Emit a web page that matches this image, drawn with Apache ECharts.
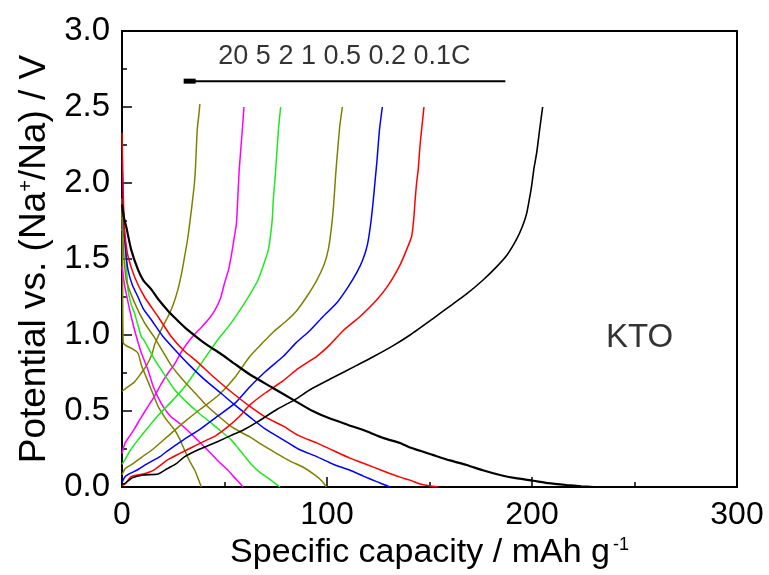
<!DOCTYPE html>
<html>
<head>
<meta charset="utf-8">
<title>KTO rate capability</title>
<script src="https://cdn.jsdelivr.net/npm/echarts@6/dist/echarts.min.js"></script>
<style>
  html, body { margin: 0; padding: 0; background: #fff; }
  #chart { width: 769px; height: 575px; }
</style>
</head>
<body>
<div id="chart"></div>
<script>
// Galvanostatic charge/discharge profiles of KTO at several C-rates.
// Each profile is a list of [specific capacity (mAh/g), potential (V)].

const rates = ['20C', '5C', '2C', '1C', '0.5C', '0.2C', '0.1C'];
const rateColors = ['#808000', '#ff00ff', '#1fe81f', '#808000', '#0000ff', '#ff0000', '#000000'];

const discharge20C = [[0,1.9],[0.3,1.4],[0.6,0.95],[2,0.93],[5,0.91],[7.8,0.88],[9.5,0.8],[11,0.75],[14.3,0.64],[17.6,0.53],[20.8,0.46],[23,0.42],[25.7,0.375],[28,0.32],[30.6,0.24],[33,0.17],[35.5,0.11],[37,0.06],[38.7,0]];
const charge20C = [[0,0.63],[3,0.66],[6,0.69],[9.4,0.75],[12,0.8],[14.5,0.87],[16,0.94],[17.6,0.99],[20,1.06],[22.4,1.12],[25,1.2],[27.3,1.3],[29,1.4],[30.6,1.52],[32,1.63],[33,1.73],[34,1.84],[35.2,1.98],[35.8,2.09],[36.7,2.35],[37.5,2.45],[38,2.52]];

const discharge5C = [[0,1.45],[1,1.35],[2.1,1.27],[4.5,1.12],[7,0.99],[9.5,0.88],[12.7,0.77],[15,0.67],[17.6,0.59],[20.5,0.52],[24,0.46],[27,0.43],[30.6,0.39],[36,0.32],[42,0.24],[47,0.17],[51.7,0.11],[55,0.06],[57.5,0.025],[59,0]];
const charge5C = [[0,0.22],[1.5,0.29],[3.5,0.33],[6.2,0.386],[9,0.45],[12.7,0.53],[16,0.6],[19.2,0.68],[22.5,0.75],[25.7,0.81],[29,0.89],[33.8,0.98],[38.7,1.05],[42,1.1],[45.2,1.16],[48,1.24],[50,1.34],[52,1.43],[53.3,1.52],[54.5,1.62],[55.8,1.73],[56.3,1.85],[57.2,2.09],[58.7,2.35],[59.5,2.5]];

const discharge2C = [[0,1.7],[1.6,1.6],[2.2,1.45],[2.9,1.3],[4.5,1.2],[6.2,1.14],[9.4,0.99],[11,0.96],[15,0.86],[19.2,0.77],[25.7,0.64],[32.2,0.55],[38,0.48],[43.6,0.42],[48,0.37],[53.3,0.31],[57,0.25],[60,0.2],[63,0.15],[67,0.1],[72.2,0.05],[75,0.02],[77,0]];
const charge2C = [[0,0.15],[1.5,0.18],[4,0.24],[7.8,0.31],[12,0.38],[17.6,0.47],[24,0.56],[30.6,0.66],[38,0.8],[46.8,0.97],[53.3,1.08],[59.8,1.21],[63,1.28],[66.3,1.36],[69,1.46],[71.4,1.56],[72.5,1.66],[73.3,1.76],[73.8,1.89],[75,2.09],[76.3,2.35],[77.4,2.5]];

const discharge1C = [[0,1.8],[0.8,1.55],[2.1,1.36],[6.2,1.21],[11,1.08],[16,0.98],[24,0.8],[30,0.7],[35.5,0.62],[41,0.54],[46.8,0.47],[53,0.4],[58,0.36],[62.4,0.33],[68,0.28],[75.5,0.22],[82,0.17],[88.4,0.13],[94,0.08],[97.5,0.04],[99.8,0]];
const charge1C = [[0,0.08],[1.5,0.12],[5,0.15],[10,0.2],[14.3,0.24],[22,0.33],[30.6,0.43],[38,0.51],[46.8,0.6],[55,0.72],[62.4,0.86],[68,0.94],[73.8,1.02],[80,1.09],[85.2,1.16],[90,1.25],[95,1.36],[98.5,1.46],[100.6,1.56],[102.1,1.7],[103.2,1.85],[104.2,2.05],[105.1,2.2],[106.2,2.37],[107.5,2.5]];

const discharge05C = [[0,2.15],[0.5,1.9],[1,1.7],[1.8,1.55],[2.9,1.43],[5,1.33],[7.8,1.25],[10.5,1.17],[14.3,1.1],[20,0.99],[26,0.9],[33,0.8],[40,0.71],[48,0.62],[55,0.54],[62.4,0.46],[70,0.38],[78.7,0.31],[86,0.25],[95,0.2],[103,0.15],[111.2,0.11],[118,0.07],[124.2,0.035],[128,0.015],[130.7,0]];
const charge05C = [[0,0.03],[1.5,0.068],[4,0.09],[7.2,0.11],[12,0.15],[18.5,0.2],[22.4,0.24],[30,0.31],[38.7,0.386],[46,0.46],[55,0.55],[62.4,0.66],[70,0.76],[78.7,0.86],[85,0.95],[91.7,1.03],[98,1.12],[104.7,1.21],[110,1.31],[114.5,1.41],[117.6,1.5],[119.8,1.6],[121.4,1.74],[122.6,1.89],[123.5,2.02],[124.4,2.15],[125.6,2.35],[127,2.5]];

const discharge02C = [[0,2.33],[0.5,2.0],[1,1.75],[1.8,1.62],[2.9,1.52],[6.2,1.38],[11,1.25],[17.6,1.12],[24,0.99],[30,0.9],[37,0.82],[45,0.72],[52,0.64],[62.4,0.53],[70,0.46],[78.7,0.4],[86,0.34],[95,0.29],[103,0.24],[111.2,0.19],[119,0.15],[127.5,0.105],[135.6,0.065],[140.5,0.045],[145.4,0.02],[150,0.008],[154.3,0]];
const charge02C = [[0,0.01],[1.5,0.02],[4.5,0.068],[10.4,0.086],[15.3,0.11],[22.4,0.18],[28,0.22],[34,0.26],[40,0.3],[46,0.34],[52,0.4],[57,0.46],[62.4,0.54],[70,0.62],[78.7,0.7],[86,0.78],[95,0.86],[101,0.93],[108,1.03],[116,1.12],[124.2,1.23],[130,1.33],[135.6,1.46],[138.5,1.55],[141.3,1.65],[142.3,1.76],[143,1.89],[143.7,2.0],[144.5,2.09],[145.4,2.25],[146.3,2.37],[147.3,2.5]];

const discharge01C = [[0,1.86],[1,1.77],[2.1,1.71],[4.5,1.56],[7.8,1.43],[10.4,1.36],[14.3,1.3],[18,1.23],[22.4,1.16],[26,1.11],[30.6,1.05],[37,0.98],[42,0.93],[47.8,0.88],[55,0.81],[62.4,0.74],[73.8,0.65],[85.2,0.56],[93,0.5],[101.5,0.45],[110,0.41],[117.7,0.375],[128,0.32],[135.6,0.29],[140.5,0.26],[151.9,0.21],[160,0.175],[168.1,0.145],[176,0.11],[184.4,0.079],[192,0.058],[200.6,0.041],[208,0.025],[216.9,0.013],[224,0.005],[230,0]];
const charge01C = [[0,0.02],[1.5,0.024],[5,0.06],[10.4,0.079],[17.7,0.086],[22,0.12],[26.7,0.156],[30.6,0.2],[38,0.25],[46.8,0.3],[55,0.35],[59.2,0.375],[66.3,0.43],[75.5,0.51],[85,0.58],[91.7,0.64],[103,0.72],[114.5,0.8],[123,0.86],[132.3,0.93],[140.5,1.0],[151.9,1.11],[160,1.19],[168.1,1.27],[176,1.36],[182.8,1.45],[188,1.53],[192.5,1.63],[195.5,1.72],[197.4,1.8],[198.8,1.9],[199.8,1.98],[201,2.1],[202.3,2.2],[203.9,2.37],[205.2,2.5]];

const profiles = [
  { rate: '20C',  discharge: discharge20C, charge: charge20C },
  { rate: '5C',   discharge: discharge5C,  charge: charge5C },
  { rate: '2C',   discharge: discharge2C,  charge: charge2C },
  { rate: '1C',   discharge: discharge1C,  charge: charge1C },
  { rate: '0.5C', discharge: discharge05C, charge: charge05C },
  { rate: '0.2C', discharge: discharge02C, charge: charge02C },
  { rate: '0.1C', discharge: discharge01C, charge: charge01C }
];

// Rate annotation: arrow runs from low rate (right) to high rate (left)
const rateLabelText = ['20', '5', '2', '1', '0.5', '0.2', '0.1C'].join(' ');
const rateArrow = [[187, 2.67], [33, 2.67]];
const rateLabelAt = [[108.5, 2.835]];
const sampleLabelAt = [[252.5, 0.98]];

const xTicks = { min: 0, max: 300, interval: 100 };
const yTicks = { min: 0, max: 3, interval: 0.5 };

const FONT = 'Liberation Sans, Arial, sans-serif';
const INK = '#000';

const series = [];
profiles.forEach(function (p, i) {
  const color = rateColors[i];
  const isSlow = p.rate === '0.1C';
  ['discharge', 'charge'].forEach(function (kind) {
    series.push({
      name: p.rate + ' ' + kind,
      type: 'line',
      data: p[kind],
      showSymbol: false,
      smooth: 0.2,
      smoothMonotone: 'none',
      clip: true,
      lineStyle: { color: color, width: isSlow ? (kind === 'discharge' ? 2.2 : 1.6) : 1.5 },
      z: 3
    });
  });
});

series.push({
  name: 'rate arrow',
  type: 'line',
  data: rateArrow.map(function (pt, k) {
    return k === 1
      ? { value: pt, symbol: 'rect', symbolSize: [12, 5], itemStyle: { color: INK } }
      : { value: pt, symbol: 'none' };
  }),
  showSymbol: true,
  lineStyle: { color: INK, width: 2 },
  silent: true,
  z: 4
});

series.push({
  name: 'rate label',
  type: 'scatter',
  data: rateLabelAt,
  symbolSize: 0,
  silent: true,
  label: {
    show: true, position: 'inside', formatter: rateLabelText,
    fontFamily: FONT, fontSize: 27, color: INK
  },
  z: 5
});

series.push({
  name: 'sample label',
  type: 'scatter',
  data: sampleLabelAt,
  symbolSize: 0,
  silent: true,
  label: {
    show: true, position: 'inside', formatter: 'KTO',
    fontFamily: FONT, fontSize: 33, color: INK
  },
  z: 5
});

const chart = echarts.init(document.getElementById('chart'), null, { renderer: 'canvas' });
chart.setOption({
  animation: false,
  backgroundColor: '#fff',
  grid: {
    left: 122, right: 32, top: 31, bottom: 88,
    show: true, borderColor: '#000', borderWidth: 2, backgroundColor: 'transparent'
  },
  xAxis: {
    type: 'value',
    min: xTicks.min, max: xTicks.max, interval: xTicks.interval,
    name: 'Specific capacity / mAh g{sup|-1}',
    nameLocation: 'middle',
    nameGap: 29,
    nameTextStyle: {
      fontFamily: FONT, fontSize: 34, color: INK,
      rich: { sup: { fontFamily: FONT, fontSize: 18, color: INK, verticalAlign: 'top', padding: [0, 0, 16, 3] } }
    },
    axisLine: { show: true, lineStyle: { color: '#000', width: 2 } },
    axisTick: { show: true, inside: true, length: 10, lineStyle: { color: '#000', width: 1.5 } },
    minorTick: { show: true, splitNumber: 2, length: 5, lineStyle: { color: '#000', width: 1.5 } },
    axisLabel: { fontFamily: FONT, fontSize: 32, color: INK, margin: 12 },
    splitLine: { show: false }
  },
  yAxis: {
    type: 'value',
    min: yTicks.min, max: yTicks.max, interval: yTicks.interval,
    name: 'Potential vs. (Na{sup|+}/Na) / V',
    nameLocation: 'middle',
    nameGap: 64,
    nameRotate: 90,
    nameTextStyle: {
      fontFamily: FONT, fontSize: 37, color: INK,
      rich: { sup: { fontFamily: FONT, fontSize: 20, color: INK, verticalAlign: 'top', padding: [0, 0, 16, 0] } }
    },
    axisLine: { show: true, lineStyle: { color: '#000', width: 2 } },
    axisTick: { show: true, inside: true, length: 10, lineStyle: { color: '#000', width: 1.5 } },
    minorTick: { show: true, splitNumber: 2, length: 5, lineStyle: { color: '#000', width: 1.5 } },
    axisLabel: {
      fontFamily: FONT, fontSize: 33, color: INK, margin: 12,
      formatter: function (v) { return v.toFixed(1); }
    },
    splitLine: { show: false }
  },
  series: series
});
</script>
</body>
</html>
